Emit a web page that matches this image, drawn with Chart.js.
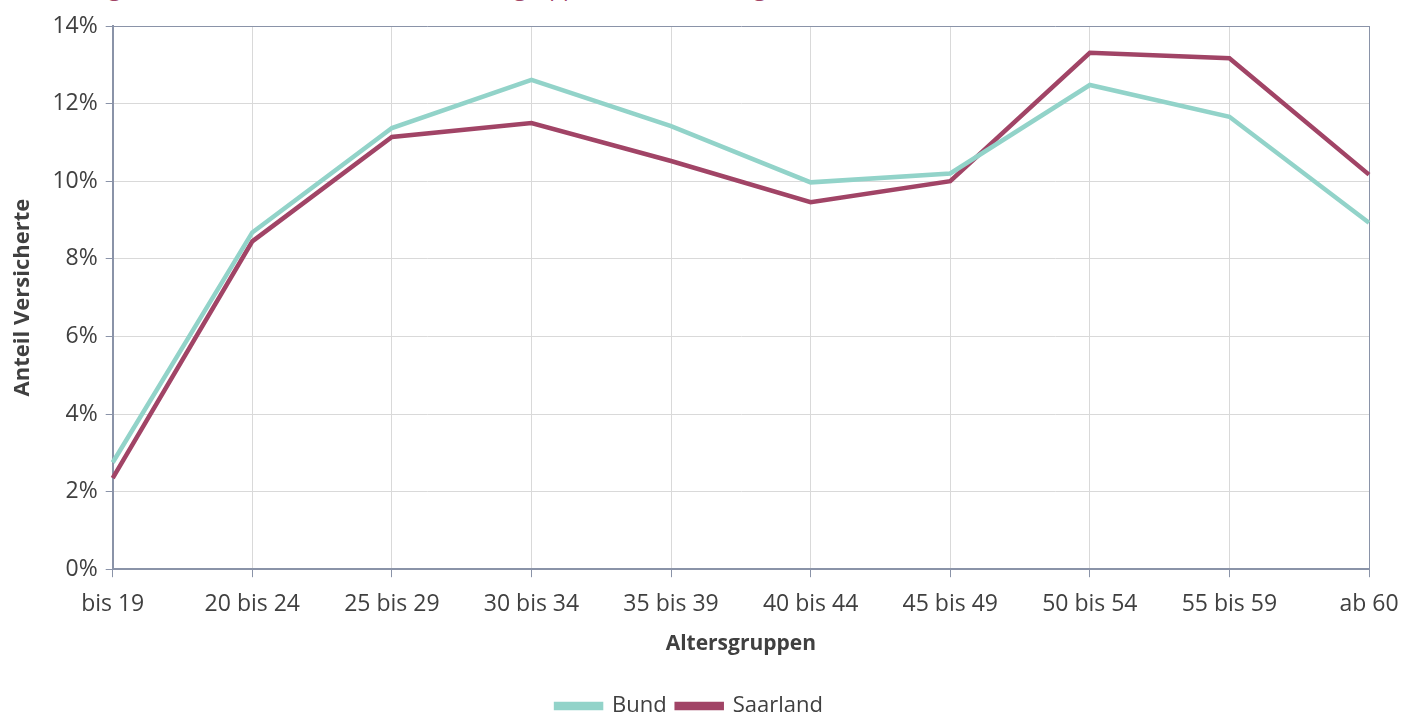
<!DOCTYPE html>
<html>
<head>
<meta charset="utf-8">
<script src="https://cdn.jsdelivr.net/npm/chart.js@4"></script>
<style>
  html, body { margin: 0; padding: 0; background: #fff; }
  #wrap { position: relative; width: 1419px; height: 715px; overflow: hidden; }
  #title { position: absolute; left: 14px; top: -24px; font: 22.5px "Open Sans"; line-height: 24px; color: #a14466; white-space: nowrap; }
  canvas { position: absolute; left: 0; top: 0; }
</style>
</head>
<body>
<div id="wrap">
  <div id="title">Abbildung 3: Anteil der Versicherten nach Altersgruppen im Bundesvergleich</div>
  <canvas id="chart" width="1419" height="727"></canvas>
</div>
<script>
const ageGroups = ['bis 19', '20 bis 24', '25 bis 29', '30 bis 34', '35 bis 39', '40 bis 44', '45 bis 49', '50 bis 54', '55 bis 59', 'ab 60'];
const bund = [2.75, 8.68, 11.37, 12.61, 11.42, 9.97, 10.2, 12.48, 11.66, 8.93];
const saarland = [2.35, 8.45, 11.14, 11.5, 10.52, 9.46, 10.0, 13.31, 13.17, 10.17];

const axisColor = '#8a93a8';
const gridColor = '#d9d9d9';
const textColor = '#404040';

new Chart(document.getElementById('chart'), {
  type: 'line',
  data: {
    labels: ageGroups,
    datasets: [
      { label: 'Bund', data: bund, borderColor: '#92d3c9', backgroundColor: '#92d3c9', borderWidth: 4.5, pointRadius: 0, tension: 0 },
      { label: 'Saarland', data: saarland, borderColor: '#a14466', backgroundColor: '#a14466', borderWidth: 4.5, pointRadius: 0, tension: 0 },
    ],
  },
  options: {
    responsive: false,
    animation: false,
    layout: { padding: { top: 26, right: 50, left: 10, bottom: 0 } },
    plugins: {
      legend: {
        position: 'bottom',
        labels: { color: textColor, font: { family: 'Open Sans', size: 22 }, boxWidth: 45, boxHeight: 4, padding: 10 },
      },
      tooltip: { enabled: false },
    },
    scales: {
      x: {
        offset: false,
        grid: {
          color: (ctx) => (ctx.index === ageGroups.length - 1 ? axisColor : gridColor),
          tickColor: axisColor,
          tickLength: 8,
        },
        border: { color: axisColor, width: 2 },
        ticks: { color: textColor, font: { family: 'Open Sans', size: 23 }, padding: 13, maxRotation: 0, autoSkip: false },
        title: { display: true, text: 'Altersgruppen', color: textColor, font: { family: 'Open Sans', size: 21, weight: 'bold' }, padding: { top: 1, bottom: 28 } },
      },
      y: {
        min: 0,
        max: 14,
        grid: {
          color: (ctx) => (ctx.tick && ctx.tick.value === 14 ? axisColor : gridColor),
          tickColor: axisColor,
          tickLength: 7,
        },
        border: { color: axisColor, width: 2 },
        ticks: { stepSize: 2, color: textColor, font: { family: 'Open Sans', size: 23 }, padding: 8, callback: (v) => v + '%' },
        title: { display: true, text: 'Anteil Versicherte', color: textColor, font: { family: 'Open Sans', size: 22, weight: 'bold' }, padding: { top: 0, bottom: 8 } },
      },
    },
  },
});
</script>
</body>
</html>
